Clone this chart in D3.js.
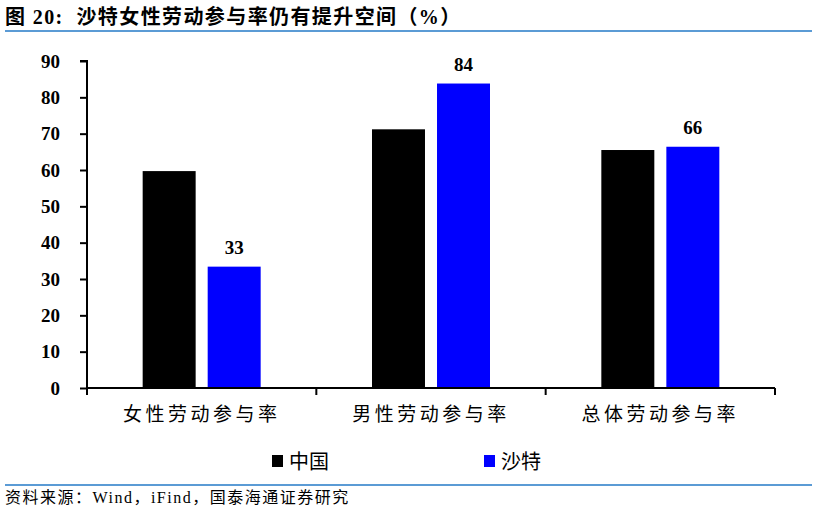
<!DOCTYPE html>
<html>
<head>
<meta charset="utf-8">
<script src="https://cdn.jsdelivr.net/npm/d3@7/dist/d3.min.js"></script>
<style>
  body { margin: 0; background: #fff; }
  svg { display: block; }
</style>
</head>
<body>
<div id="chart"></div>
<script>
var categories = ["女性劳动参与率", "男性劳动参与率", "总体劳动参与率"];
var seriesNames = ["中国", "沙特"];
var chinaValues = [59.7, 71.2, 65.5];
var saudiValues = [33.4, 83.8, 66.4];
var yTicks = [0, 10, 20, 30, 40, 50, 60, 70, 80, 90];
var colors = ["#000000", "#0000ff"];

var svgWidth = 819;
var svgHeight = 512;
var margin = { top: 61, right: 44, bottom: 124, left: 87 };
var width = svgWidth - margin.left - margin.right;
var height = svgHeight - margin.top - margin.bottom;

var svg = d3.select("#chart").append("svg")
  .attr("width", svgWidth)
  .attr("height", svgHeight);

// title and rules
svg.append("text")
  .attr("x", 5).attr("y", 24)
  .attr("font-family", "'Liberation Serif', 'Noto Sans CJK SC', serif")
  .attr("font-weight", "bold")
  .attr("font-size", 20)
  .attr("letter-spacing", 1.4)
  .style("white-space", "pre")
  .attr("fill", "#000")
  .text("图 20:  沙特女性劳动参与率仍有提升空间（%）");

svg.append("line")
  .attr("x1", 5).attr("x2", 812).attr("y1", 31).attr("y2", 31)
  .attr("stroke", "#5b9bd5").attr("stroke-width", 2);

svg.append("line")
  .attr("x1", 5).attr("x2", 812).attr("y1", 485).attr("y2", 485)
  .attr("stroke", "#5b9bd5").attr("stroke-width", 2);

svg.append("text")
  .attr("x", 5).attr("y", 503)
  .attr("font-family", "'Liberation Serif', 'Noto Sans CJK SC', serif")
  .attr("font-size", 16)
  .attr("letter-spacing", 1.5)
  .attr("fill", "#000")
  .text("资料来源：Wind，iFind，国泰海通证券研究");

var chartGroup = svg.append("g")
  .attr("transform", `translate(${margin.left}, ${margin.top})`);

var data = categories.map(function(c, i) {
  return { category: c, values: [chinaValues[i], saudiValues[i]] };
});

var x0 = d3.scaleBand().domain(categories).range([0, width]).padding(0);
var x1 = d3.scaleBand().domain(seriesNames)
  .range([x0.bandwidth() / 2 - 59, x0.bandwidth() / 2 + 59])
  .paddingInner(0.185).paddingOuter(0);
var y = d3.scaleLinear().domain([0, 90]).range([height, 0]);

// bars
var groups = chartGroup.selectAll(".grp")
  .data(data).enter().append("g")
  .attr("transform", d => `translate(${x0(d.category)},0)`);

groups.selectAll("rect")
  .data(d => d.values.map((v, i) => ({ name: seriesNames[i], value: v, i: i })))
  .enter().append("rect")
  .attr("x", d => x1(d.name))
  .attr("y", d => y(d.value))
  .attr("width", x1.bandwidth())
  .attr("height", d => height - y(d.value))
  .attr("fill", d => colors[d.i]);

// value labels for Saudi
groups.append("text")
  .attr("x", x1("沙特") + x1.bandwidth() / 2)
  .attr("y", d => y(d.values[1]) - 13)
  .attr("text-anchor", "middle")
  .attr("font-family", "'Liberation Serif', serif")
  .attr("font-weight", "bold")
  .attr("font-size", 19)
  .text(d => Math.round(d.values[1]));

// y axis
var leftAxis = d3.axisLeft(y).tickValues(yTicks).tickSize(7).tickPadding(20);
var yAxis = chartGroup.append("g").call(leftAxis);
yAxis.select(".domain").attr("stroke", "#000").attr("stroke-width", 2)
  .attr("d", `M-7,0H0V${height}`);
yAxis.selectAll(".tick line").attr("stroke", "#000").attr("stroke-width", 2);
yAxis.selectAll(".tick text")
  .attr("font-family", "'Liberation Serif', serif")
  .attr("font-weight", "bold")
  .attr("font-size", 19)
  .attr("fill", "#000");

// x axis
var bottomAxis = d3.axisBottom(x0).tickSize(0).tickPadding(20);
var xAxis = chartGroup.append("g")
  .attr("transform", `translate(0, ${height})`)
  .call(bottomAxis);
xAxis.select(".domain").attr("stroke", "#000").attr("stroke-width", 2)
  .attr("d", `M0,0H${width}`);
xAxis.selectAll(".tick text")
  .attr("font-family", "'Noto Sans CJK SC', sans-serif")
  .attr("font-size", 19)
  .attr("letter-spacing", 3.5)
  .attr("fill", "#000");

var edges = [0].concat(categories.map(c => x0(c) + x0.bandwidth()));
xAxis.selectAll(".sep")
  .data(edges).enter().append("line")
  .attr("x1", d => d).attr("x2", d => d)
  .attr("y1", 0).attr("y2", 7)
  .attr("stroke", "#000").attr("stroke-width", 2);

// legend
var legend = svg.append("g");
var legendX = [272, 484];
seriesNames.forEach(function(name, i) {
  legend.append("rect")
    .attr("x", legendX[i]).attr("y", 455)
    .attr("width", 11).attr("height", 12)
    .attr("fill", colors[i]);
  legend.append("text")
    .attr("x", legendX[i] + 17).attr("y", 469)
    .attr("font-family", "'Noto Sans CJK SC', sans-serif")
    .attr("font-size", 20)
    .attr("fill", "#000")
    .text(name);
});
</script>
</body>
</html>
